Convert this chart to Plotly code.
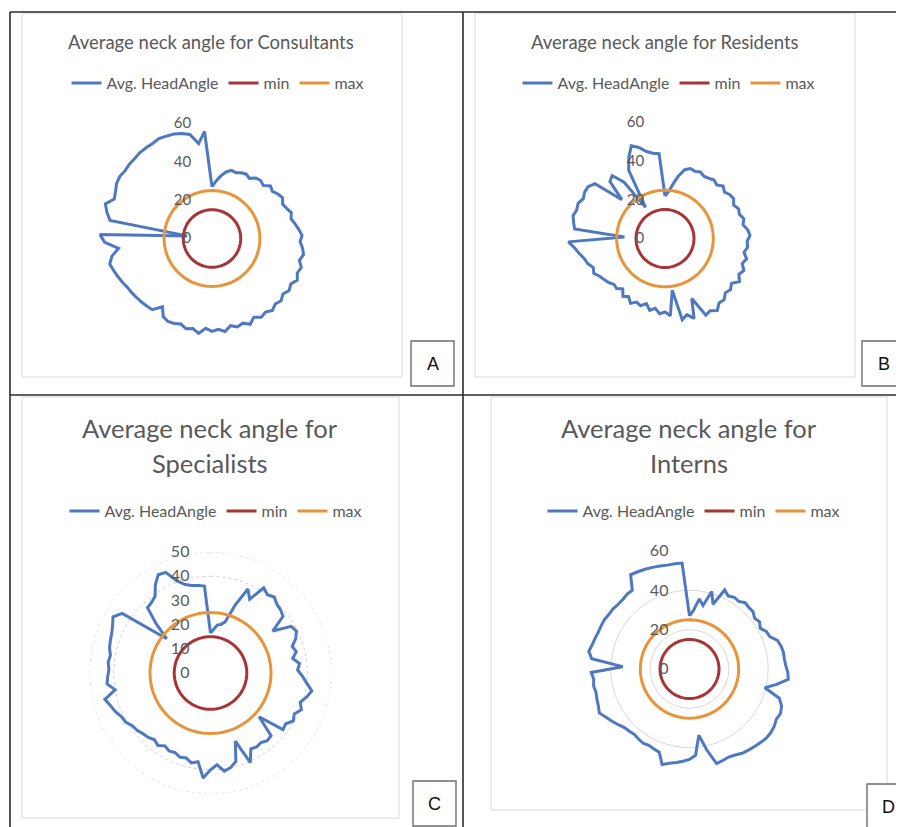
import plotly.graph_objects as go

# browser window size and page offset (default body margin of the html page)
WIN_W, WIN_H = 904, 827
OFF = 8
W, H = WIN_W - OFF, WIN_H - OFF

# ---------------- data ----------------
angles = [i * 4 for i in range(90)]  # category positions, degrees clockwise from top

consultants = [27, 30, 33, 35.5, 37, 36.5, 37.5, 38, 37, 39,
               39.5, 38.5, 41, 40, 41.5, 42.5, 41, 42, 43.5, 42.5,
               44, 45.5, 47, 46, 47.5, 48.5, 47, 49, 48, 49.5,
               47.5, 48.5, 47, 48.5, 47.5, 49, 47.5, 48.5, 46.5, 49,
               47, 48, 46.5, 49, 47.5, 48.5, 47, 50, 48, 49,
               47.5, 48.5, 49, 48, 44, 48.5, 49, 49.5, 50, 50.5,
               51, 52, 53, 54, 55, 53, 49, 56, 58.5, 13,
               54, 56.5, 58.5, 55, 56, 57.5, 58, 57.5, 58, 58,
               58.5, 58.5, 58.5, 59, 58.5, 58, 57, 55.5, 50, 56]

residents = [22, 24, 28, 33, 37, 38.5, 38, 39, 38, 38.5,
             39.5, 38.5, 40.5, 39, 40.5, 41, 39.5, 41, 40.5, 42,
             41, 43, 44, 42.5, 43, 41.5, 43.5, 42, 44, 42.5,
             44.5, 41.5, 43, 42, 44, 43.5, 46, 44, 45, 34,
             44, 41, 43, 27, 40, 38, 39, 36.5, 38, 35,
             37, 36, 38, 35.5, 37, 34, 36, 35.5, 37, 38,
             39, 41, 40, 42, 43, 45, 47, 50, 21, 47,
             48, 49, 48, 48.5, 47, 48, 48, 46, 30, 41,
             42.5, 36, 19, 40, 46, 51, 49, 46, 44.5, 44]

specialists = [16.5, 18, 20, 20.5, 22, 30, 38, 34.5, 41.5, 40,
               41, 39.5, 39, 38, 31, 38.5, 39.5, 38, 35.5, 36.5,
               34.5, 37, 36, 38, 40, 42.5, 41, 39, 40.5, 38.5,
               39.5, 37.5, 38, 27, 36, 36.5, 35.5, 36, 35.5, 40.5,
               30, 38, 40, 41, 38, 40, 43.5, 37, 38, 36.5,
               37, 36, 36.5, 35.5, 37, 36, 37, 37.5, 38.5, 39,
               40.5, 41, 42.5, 43.5, 45, 40, 43, 42.5, 42, 42.5,
               42, 43, 43.5, 44, 45, 46.5, 44, 23, 30, 37.5,
               38, 39, 43, 46, 45.5, 40.5, 38, 37, 36.5, 36]

interns = [27, 30, 36, 33, 41, 35, 44, 42, 43, 42.5,
           44, 43.5, 43.5, 42, 43, 41.5, 43.5, 44, 47, 48,
           48.5, 48.5, 49, 50, 50.5, 45, 39.5, 48, 50.5, 51.5,
           51, 52, 52.5, 52.5, 52, 51.5, 51, 50.5, 49.5, 49,
           49.5, 50, 42, 34, 44, 46, 47, 48, 49, 50.5,
           45, 44.5, 44, 44.5, 44, 43.5, 44, 44.5, 46, 47.5,
           49, 51, 50, 49.5, 49, 49.5, 49, 50, 34, 50,
           52, 51, 50.5, 50, 50, 50, 49.5, 49.5, 49, 49,
           49.5, 49.5, 56.5, 56, 55.5, 55, 54.5, 54, 54, 54]

min_level = 15
max_level = 25

series_names = ["Avg. HeadAngle", "min", "max"]
title_lines = [["Average neck angle for Consultants"],
               ["Average neck angle for Residents"],
               ["Average neck angle for", "Specialists"],
               ["Average neck angle for", "Interns"]]
panel_letters = ["A", "B", "C", "D"]
tick_values = [[0, 20, 40, 60], [0, 20, 40, 60], [0, 10, 20, 30, 40, 50], [0, 20, 40, 60]]
grid_rings_c = [40, 50]

# ---------------- styling / layout ----------------
BLUE = "#4F78C2"
RED = "#A73535"
ORANGE = "#E8943A"
GREY_TXT = "#595959"
FONT = "Lato"


def px(x, y):
    """window pixel -> paper coords"""
    return (x - OFF) / W, 1 - (y - OFF) / H


panels = [
    dict(data=consultants, cx=212, cy=238.5, R=115, rmax=60, tfs=18.5, title_y=[42],
         leg_x=218, leg_y=83, tickfs=15, grid=None),
    dict(data=residents, cx=665, cy=238.5, R=116, rmax=60, tfs=18.5, title_y=[42],
         leg_x=669, leg_y=83, tickfs=15, grid=None),
    dict(data=specialists, cx=210.5, cy=673, R=121, rmax=50, tfs=25.5, title_y=[428, 463],
         leg_x=216, leg_y=511, tickfs=16, grid="dots"),
    dict(data=interns, cx=689.5, cy=669, R=118, rmax=60, tfs=25.5, title_y=[428, 463],
         leg_x=694, leg_y=511, tickfs=16, grid="solid"),
]
title_x = [211, 665, 210, 689]

fig = go.Figure()
layout = dict(width=W, height=H, margin=dict(l=0, r=0, t=0, b=0),
              paper_bgcolor="white", plot_bgcolor="white", showlegend=True)

annotations = []
shapes = []

theta_closed = angles + [360]

for k, p in enumerate(panels):
    pname = "polar" if k == 0 else f"polar{k+1}"
    lname = "legend" if k == 0 else f"legend{k+1}"
    cx, cy, R = p["cx"], p["cy"], p["R"]
    x0, y1 = px(cx - R, cy - R)
    x1, y0 = px(cx + R, cy + R)

    if p["grid"] == "dots":
        for g in grid_rings_c:
            fig.add_trace(go.Scatterpolar(r=[g] * len(theta_closed), theta=theta_closed, mode="lines",
                                          line=dict(color="#D0D0D0", width=1, dash="dot"),
                                          subplot=pname, showlegend=False, hoverinfo="skip"))

    vals = p["data"]
    fig.add_trace(go.Scatterpolar(r=vals + vals[:1], theta=theta_closed, mode="lines",
                                  name=series_names[0], line=dict(color=BLUE, width=3),
                                  subplot=pname, legend=lname))
    fig.add_trace(go.Scatterpolar(r=[min_level] * len(theta_closed), theta=theta_closed, mode="lines",
                                  name=series_names[1], line=dict(color=RED, width=3),
                                  subplot=pname, legend=lname))
    fig.add_trace(go.Scatterpolar(r=[max_level] * len(theta_closed), theta=theta_closed, mode="lines",
                                  name=series_names[2], line=dict(color=ORANGE, width=3),
                                  subplot=pname, legend=lname))

    layout[pname] = dict(
        domain=dict(x=[x0, x1], y=[y0, y1]),
        bgcolor="rgba(0,0,0,0)",
        angularaxis=dict(rotation=90, direction="clockwise", showgrid=False, showline=False,
                         showticklabels=False, ticks=""),
        radialaxis=dict(range=[0, p["rmax"]], tickvals=tick_values[k], angle=90, tickangle=90,
                        side="counterclockwise", showline=False,
                        ticks="outside", ticklen=15, tickcolor="rgba(0,0,0,0)",
                        showgrid=(p["grid"] == "solid"), gridcolor="#D9D9D9", gridwidth=1,
                        tickfont=dict(family=FONT, size=p["tickfs"], color=GREY_TXT)),
    )

    lx, ly = px(p["leg_x"], p["leg_y"])
    layout[lname] = dict(orientation="h", x=lx, xanchor="center", y=ly, yanchor="middle",
                         bgcolor="rgba(0,0,0,0)", font=dict(family=FONT, size=16, color=GREY_TXT),
                         itemwidth=30, tracegroupgap=0)

    for line_txt, ty in zip(title_lines[k], p["title_y"]):
        tx, tyy = px(title_x[k], ty)
        annotations.append(dict(x=tx, y=tyy, xref="paper", yref="paper", text=line_txt,
                                showarrow=False, xanchor="center", yanchor="middle",
                                font=dict(family=FONT, size=p["tfs"], color=GREY_TXT)))

# chart-area frames (light grey)
frames = [(22, 13, 402, 377), (475, 13, 855, 377), (22, 397, 399, 818), (491, 397, 887, 810)]
for (a, b, c, d) in frames:
    xa, yb = px(a, b)
    xc, yd = px(c, d)
    shapes.append(dict(type="rect", xref="paper", yref="paper", x0=xa, x1=xc, y0=yd, y1=yb,
                       line=dict(color="#D9D9D9", width=1), fillcolor="rgba(0,0,0,0)"))

# table lines (dark)
table_lines = [((10, 12), (904, 12)), ((10, 12), (10, 827)), ((463, 12), (463, 827)), ((10, 395), (904, 395))]
for (p0, p1) in table_lines:
    xa, ya = px(*p0)
    xb, yb = px(*p1)
    shapes.append(dict(type="line", xref="paper", yref="paper", x0=xa, y0=ya, x1=xb, y1=yb,
                       line=dict(color="#2B2B2B", width=1.6)))

# letter boxes
boxes = [(411, 341, 454, 386), (862, 341, 905, 386), (413, 781, 456, 826), (867, 784, 910, 829)]
for letter, (a, b, c, d) in zip(panel_letters, boxes):
    xa, yb = px(a, b)
    xc, yd = px(c, d)
    shapes.append(dict(type="rect", xref="paper", yref="paper", x0=xa, x1=xc, y0=yd, y1=yb,
                       line=dict(color="#6E6E6E", width=1.4), fillcolor="white"))
    tx, ty = px((a + c) / 2, (b + d) / 2)
    annotations.append(dict(x=tx, y=ty, xref="paper", yref="paper", text=letter, showarrow=False,
                            xanchor="center", yanchor="middle",
                            font=dict(family="Liberation Sans", size=18, color="#111111")))

layout["annotations"] = annotations
layout["shapes"] = shapes
fig.update_layout(**layout)
fig.write_html("out.html")
